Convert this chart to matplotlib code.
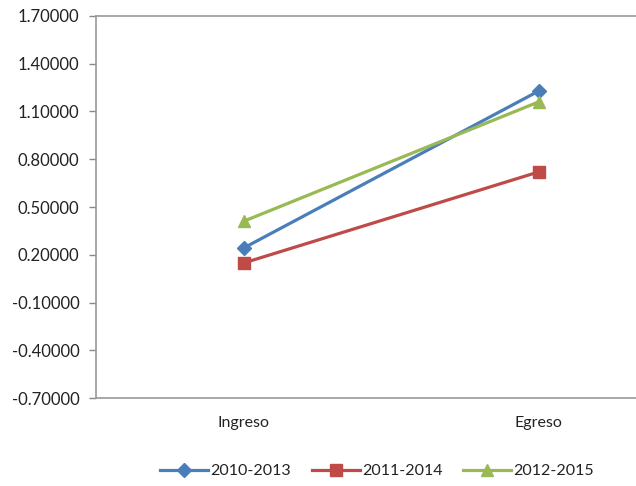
import matplotlib
matplotlib.use("Agg")
import matplotlib.pyplot as plt
from matplotlib.ticker import FormatStrFormatter

categories = ["Ingreso", "Egreso"]
series_names = ["2010-2013", "2011-2014", "2012-2015"]
s2010 = [0.242, 1.228]
s2011 = [0.148, 0.720]
s2012 = [0.410, 1.160]
yticks = [-0.7, -0.4, -0.1, 0.2, 0.5, 0.8, 1.1, 1.4, 1.7]

colors = ["#4A7EBB", "#BE4B48", "#98B954"]
markers = ["D", "s", "^"]
msizes = [7, 9, 9]

plt.rcParams['font.family'] = ['Lato', 'DejaVu Sans']
fig = plt.figure(figsize=(6.36, 4.86), dpi=100)
ax = fig.add_axes([96/636, 88/486, 590/636, 382/486])

x = list(range(len(categories)))
for vals, name, c, m, ms in zip([s2010, s2011, s2012], series_names, colors, markers, msizes):
    ax.plot(x, vals, color=c, marker=m, markersize=ms, linewidth=2.3, label=name,
            markeredgecolor=c, clip_on=False)

ax.set_xlim(-0.5, 1.5)
ax.set_ylim(-0.7, 1.7)
ax.set_yticks(yticks)
ax.yaxis.set_major_formatter(FormatStrFormatter('%.5f'))
ax.set_xticks(x)
ax.set_xticklabels(categories)
ax.tick_params(axis='x', length=0, pad=13, labelsize=11.5, colors='#222222')
ax.tick_params(axis='y', length=5, direction='out', width=1, color='#888888', pad=7,
               labelsize=12, labelcolor='#222222')
for sp in ['left', 'bottom', 'top']:
    ax.spines[sp].set_color('#999999')
    ax.spines[sp].set_linewidth(1.2)
ax.spines['right'].set_visible(False)

leg = fig.legend(loc='center', bbox_to_anchor=(0.593, 1 - 471/486), ncol=3,
                 frameon=False, fontsize=11.5, handlelength=3.0, columnspacing=1.3,
                 handletextpad=0.15)
for t in leg.get_texts():
    t.set_color('#222222')

fig.savefig("out.png", dpi=100)
